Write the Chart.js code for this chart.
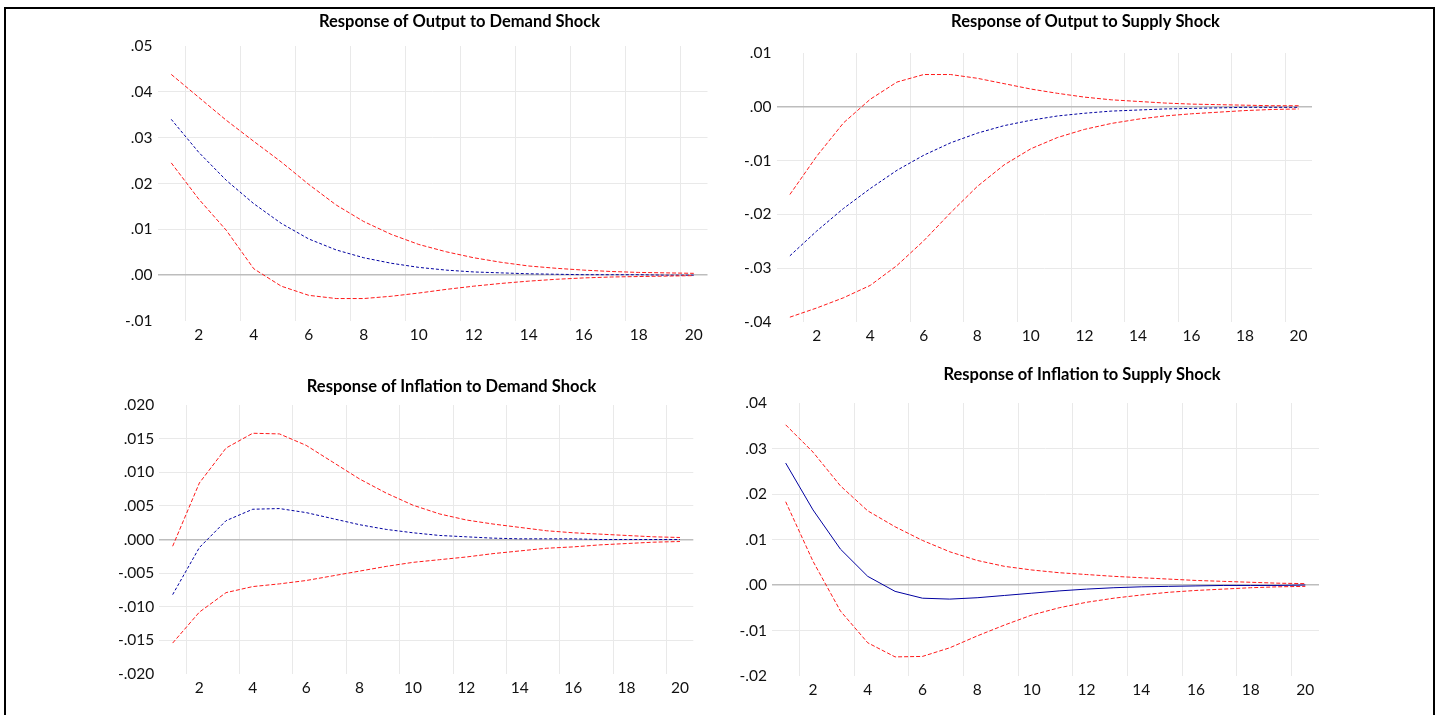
<!DOCTYPE html>
<html>
<head>
<meta charset="UTF-8">
<title>Impulse responses</title>
<script src="https://cdn.jsdelivr.net/npm/chart.js"></script>
<style>
  html, body { margin: 0; padding: 0; background: #fff; overflow: hidden; }
  body { width: 1442px; height: 715px; position: relative; }
  #frame { position: absolute; left: 4px; top: 7px; width: 1431px; height: 760px;
           border: 2px solid #000; box-sizing: border-box; }
  .panel { position: absolute; }
</style>
</head>
<body>
<div id="frame"></div>

<script>
    // horizon (periods after the shock)
    const periods = [1, 2, 3, 4, 5, 6, 7, 8, 9, 10, 11, 12, 13, 14, 15, 16, 17, 18, 19, 20];
    const xLabels = [2, 4, 6, 8, 10, 12, 14, 16, 18, 20];

    // Response of Output to Demand Shock
    const outDemUpper = [0.0438, 0.0388, 0.0338, 0.0292, 0.0247, 0.0198, 0.0153, 0.0117, 0.0089, 0.0067,
                         0.0051, 0.0038, 0.0028, 0.0020, 0.0015, 0.0011, 0.0008, 0.0006, 0.0005, 0.0004];
    const outDemMid   = [0.0340, 0.0268, 0.0207, 0.0156, 0.0113, 0.0079, 0.0055, 0.0038, 0.0026, 0.0017,
                         0.0011, 0.0007, 0.0005, 0.0003, 0.0002, 0.0001, 0.0001, 0.0001, 0.0000, 0.0000];
    const outDemLower = [0.0245, 0.0166, 0.0098, 0.0014, -0.0024, -0.0044, -0.0051, -0.0051, -0.0046, -0.0039,
                         -0.0031, -0.0024, -0.0018, -0.0013, -0.0009, -0.0006, -0.0004, -0.0003, -0.0002, -0.0001];
    const outDemTicks = [-0.01, 0, 0.01, 0.02, 0.03, 0.04, 0.05];

    // Response of Output to Supply Shock
    const outSupUpper = [-0.0163, -0.0092, -0.0030, 0.0014, 0.0046, 0.0060, 0.0060, 0.0053, 0.0043, 0.0033,
                         0.0025, 0.0018, 0.0013, 0.0010, 0.0007, 0.0005, 0.0004, 0.0003, 0.0002, 0.0002];
    const outSupMid   = [-0.0277, -0.0231, -0.0189, -0.0152, -0.0118, -0.0090, -0.0067, -0.0049, -0.0035, -0.0025,
                         -0.0017, -0.0012, -0.0008, -0.0006, -0.0004, -0.0003, -0.0002, -0.0001, -0.0001, -0.0001];
    const outSupLower = [-0.0391, -0.0374, -0.0355, -0.0332, -0.0295, -0.0249, -0.0197, -0.0148, -0.0108, -0.0078,
                         -0.0057, -0.0042, -0.0031, -0.0023, -0.0017, -0.0013, -0.0010, -0.0007, -0.0005, -0.0004];
    const outSupTicks = [-0.04, -0.03, -0.02, -0.01, 0, 0.01];

    // Response of Inflation to Demand Shock
    const infDemUpper = [-0.0010, 0.0084, 0.0136, 0.0158, 0.0157, 0.0140, 0.0115, 0.0090, 0.0069, 0.0051,
                         0.0038, 0.0029, 0.0023, 0.0018, 0.0013, 0.0010, 0.0008, 0.0006, 0.0004, 0.0003];
    const infDemMid   = [-0.0082, -0.0012, 0.0028, 0.0045, 0.0046, 0.0040, 0.0031, 0.0022, 0.0015, 0.0010,
                         0.0006, 0.0004, 0.0002, 0.0001, 0.0001, 0.0001, 0.0000, 0.0000, 0.0000, 0.0000];
    const infDemLower = [-0.0154, -0.0108, -0.0079, -0.0070, -0.0066, -0.0061, -0.0054, -0.0047, -0.0040, -0.0034,
                         -0.0030, -0.0026, -0.0021, -0.0017, -0.0013, -0.0011, -0.0008, -0.0006, -0.0004, -0.0003];
    const infDemTicks = [-0.02, -0.015, -0.01, -0.005, 0, 0.005, 0.01, 0.015, 0.02];

    // Response of Inflation to Supply Shock
    const infSupUpper = [0.0352, 0.0292, 0.0218, 0.0163, 0.0128, 0.0098, 0.0073, 0.0054, 0.0041, 0.0033,
                         0.0027, 0.0023, 0.0019, 0.0016, 0.0013, 0.0010, 0.0008, 0.0006, 0.0004, 0.0003];
    const infSupMid   = [0.0268, 0.0165, 0.0079, 0.0019, -0.0014, -0.0029, -0.0031, -0.0028, -0.0023, -0.0018,
                         -0.0013, -0.0009, -0.0006, -0.0004, -0.0003, -0.0002, -0.0001, -0.0001, -0.0001, 0.0000];
    const infSupLower = [0.0183, 0.0052, -0.0057, -0.0127, -0.0158, -0.0157, -0.0138, -0.0112, -0.0088, -0.0066,
                         -0.0050, -0.0038, -0.0029, -0.0022, -0.0016, -0.0012, -0.0009, -0.0006, -0.0004, -0.0003];
    const infSupTicks = [-0.02, -0.01, 0, 0.01, 0.02, 0.03, 0.04];

    const panels = [
        { title: 'Response of Output to Demand Shock', upper: outDemUpper, mid: outDemMid, lower: outDemLower,
          ticks: outDemTicks, dec: 2, solidMid: false,
          plot: { l: 157.5, r: 707.5, t: 46, b: 321 }, tx: 459, ty: 21.5 },
        { title: 'Response of Output to Supply Shock', upper: outSupUpper, mid: outSupMid, lower: outSupLower,
          ticks: outSupTicks, dec: 2, solidMid: false,
          plot: { l: 776.5, r: 1312, t: 53, b: 322 }, tx: 1085, ty: 22 },
        { title: 'Response of Inflation to Demand Shock', upper: infDemUpper, mid: infDemMid, lower: infDemLower,
          ticks: infDemTicks, dec: 3, solidMid: false,
          plot: { l: 159.3, r: 693.3, t: 405, b: 674 }, tx: 452, ty: 386.7 },
        { title: 'Response of Inflation to Supply Shock', upper: infSupUpper, mid: infSupMid, lower: infSupLower,
          ticks: infSupTicks, dec: 2, solidMid: true,
          plot: { l: 772, r: 1319, t: 403, b: 676 }, tx: 1082, ty: 375 },
    ];

    const FONT = 'Lato, "Liberation Sans", sans-serif';
    const GRID = '#e9e9e9';
    const NONE = 'rgba(0,0,0,0)';
    const TITLE_SIZE = 16.5;
    const TITLE_H = TITLE_SIZE * 1.2;

    // EViews style labels: .05, -.01, .000
    function fmt(v, dec) {
        if (Math.abs(v) < 1e-12) v = 0;
        const s = Math.abs(v).toFixed(dec).replace(/^0/, '');
        return (v < 0 ? '-' : '') + s;
    }

    function buildPanel(p) {
        const half = Math.max(p.tx - p.plot.l + 50, p.plot.r - p.tx + 10);
        const left = Math.round(p.tx - half);
        const width = Math.round(2 * half);
        const top = Math.round(p.ty - 6 - TITLE_H / 2);
        const height = Math.round(p.plot.b - top + 32);
        const yWidth = p.plot.l - left;
        const rWidth = left + width - p.plot.r;
        const titlePadBottom = p.plot.t - top - 6 - TITLE_H;

        const div = document.createElement('div');
        div.className = 'panel';
        div.style.left = left + 'px';
        div.style.top = top + 'px';
        div.style.width = width + 'px';
        div.style.height = height + 'px';
        const canvas = document.createElement('canvas');
        div.appendChild(canvas);
        document.body.appendChild(div);

        const yMin = p.ticks[0], yMax = p.ticks[p.ticks.length - 1];
        const xTicks = [];
        xLabels.forEach(v => { xTicks.push(v - 0.5); xTicks.push(v); });

        const line = (vals, color, dash) => ({
            data: periods.map((x, i) => ({ x: x, y: vals[i] })),
            borderColor: color,
            borderWidth: 1,
            borderDash: dash,
            pointRadius: 0,
            tension: 0,
            fill: false
        });

        new Chart(canvas, {
            type: 'line',
            data: {
                datasets: [
                    line(p.upper, '#ff1a1a', [4, 2]),
                    line(p.lower, '#ff1a1a', [4, 2]),
                    line(p.mid, '#0000a0', p.solidMid ? [] : [3, 2])
                ]
            },
            options: {
                animation: false,
                responsive: true,
                maintainAspectRatio: false,
                layout: { padding: 0 },
                plugins: {
                    legend: { display: false },
                    tooltip: { enabled: false },
                    title: {
                        display: true,
                        text: p.title,
                        color: '#000',
                        font: { family: FONT, size: TITLE_SIZE, weight: 'bold', lineHeight: 1.2 },
                        padding: { top: 6, bottom: titlePadBottom }
                    }
                },
                scales: {
                    x: {
                        type: 'linear',
                        min: 0.5,
                        max: 20.5,
                        border: { display: false },
                        afterBuildTicks: s => { s.ticks = xTicks.map(v => ({ value: v })); },
                        ticks: {
                            autoSkip: false,
                            maxRotation: 0,
                            padding: 5,
                            color: '#111',
                            font: { family: FONT, size: 15.5 },
                            callback: v => Number.isInteger(v) ? String(v) : ''
                        },
                        grid: {
                            drawTicks: false,
                            lineWidth: 1,
                            color: c => Number.isInteger(c.tick.value) ? NONE : GRID
                        },
                        afterFit: s => { s.height = 32; }
                    },
                    y: {
                        type: 'linear',
                        min: yMin,
                        max: yMax,
                        border: { display: false },
                        afterBuildTicks: s => { s.ticks = p.ticks.map(v => ({ value: v })); },
                        ticks: {
                            padding: 5,
                            color: '#111',
                            font: { family: FONT, size: 15.5 },
                            callback: v => fmt(v, p.dec)
                        },
                        grid: {
                            drawTicks: false,
                            color: c => {
                                const v = c.tick.value;
                                if (v === yMin || v === yMax) return NONE;
                                return Math.abs(v) < 1e-12 ? '#bdbdbd' : GRID;
                            },
                            lineWidth: c => Math.abs(c.tick.value) < 1e-12 ? 1.5 : 1
                        },
                        afterFit: s => { s.width = yWidth; }
                    },
                    yr: {
                        type: 'linear',
                        position: 'right',
                        border: { display: false },
                        grid: { display: false, drawTicks: false },
                        ticks: { display: false },
                        afterFit: s => { s.width = rWidth; }
                    }
                }
            }
        });
    }

    panels.forEach(buildPanel);
</script>
</body>
</html>
